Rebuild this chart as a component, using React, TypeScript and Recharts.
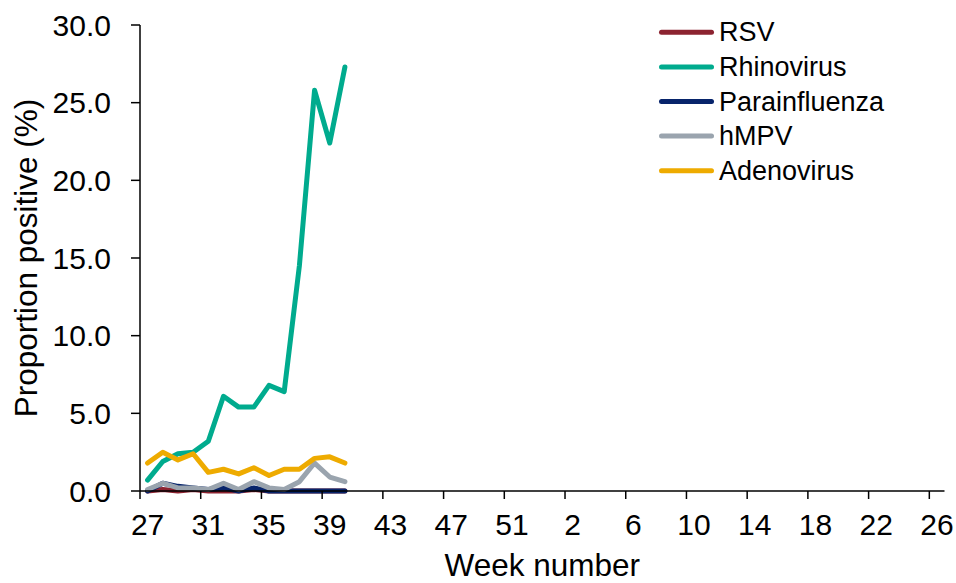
import React from 'react';
import { LineChart, Line, XAxis, YAxis, Legend, Label } from 'recharts';

// ---- Data ----
const weeks = [
  '27', '28', '29', '30', '31', '32', '33', '34', '35', '36', '37', '38', '39', '40',
  '41', '42', '43', '44', '45', '46', '47', '48', '49', '50', '51', '52', '53',
  '1', '2', '3', '4', '5', '6', '7', '8', '9', '10', '11', '12', '13', '14', '15',
  '16', '17', '18', '19', '20', '21', '22', '23', '24', '25', '26',
];
const xTickLabels = ['27', '31', '35', '39', '43', '47', '51', '2', '6', '10', '14', '18', '22', '26'];
const yTicks = [0, 5, 10, 15, 20, 25, 30];

// values for weeks 27..40 (later weeks have no data yet)
const rsv = [0.0, 0.1, 0.0, 0.1, 0.0, 0.0, 0.0, 0.1, 0.0, 0.0, 0.0, 0.0, 0.0, 0.0];
const rhinovirus = [0.7, 1.9, 2.4, 2.5, 3.2, 6.1, 5.4, 5.4, 6.8, 6.4, 14.5, 25.8, 22.4, 27.3];
const parainfluenza = [0.0, 0.5, 0.3, 0.2, 0.1, 0.2, 0.0, 0.2, 0.0, 0.0, 0.0, 0.0, 0.0, 0.0];
const hmpv = [0.1, 0.5, 0.2, 0.2, 0.1, 0.5, 0.1, 0.6, 0.2, 0.1, 0.6, 1.8, 0.9, 0.6];
const adenovirus = [1.8, 2.5, 2.0, 2.4, 1.2, 1.4, 1.1, 1.5, 1.0, 1.4, 1.4, 2.1, 2.2, 1.8];

const SERIES = [
  { key: 'rsv', name: 'RSV', color: '#8C2330', values: rsv },
  { key: 'rhinovirus', name: 'Rhinovirus', color: '#00AB8E', values: rhinovirus },
  { key: 'parainfluenza', name: 'Parainfluenza', color: '#07246B', values: parainfluenza },
  { key: 'hmpv', name: 'hMPV', color: '#9AA4AE', values: hmpv },
  { key: 'adenovirus', name: 'Adenovirus', color: '#EEAB00', values: adenovirus },
];

const data = weeks.map((w, i) => {
  const row: Record<string, any> = { week: w };
  SERIES.forEach((s) => {
    row[s.key] = i < s.values.length ? s.values[i] : null;
  });
  return row;
});

// ---- Layout ----
const W = 956;
const H = 583;
const FONT = '"Liberation Sans", Arial, Helvetica, sans-serif';
const MARGIN = { top: 25, right: 11.5, bottom: 0, left: 0 };
const Y_AXIS_W = 140;
const X_AXIS_H = 92;
const PLOT_LEFT = MARGIN.left + Y_AXIS_W;
const PLOT_W = W - PLOT_LEFT - MARGIN.right;
const PLOT_H = H - MARGIN.top - X_AXIS_H;
const PLOT_BOTTOM = MARGIN.top + PLOT_H;
const BAND = PLOT_W / weeks.length;

const XTick = (props: any) => {
  const { x, payload } = props;
  const bx = x - BAND / 2;
  return (
    <g>
      <line x1={bx} y1={PLOT_BOTTOM} x2={bx} y2={PLOT_BOTTOM + 8} stroke="#000" strokeWidth={1.5} />
      <text x={x} y={PLOT_BOTTOM + 44} textAnchor="middle" fontSize={30} fontFamily={FONT} fill="#000">
        {payload.value}
      </text>
    </g>
  );
};

const renderLegend = () => (
  <svg width={280} height={190} style={{ display: 'block' }}>
    {SERIES.map((s, i) => {
      const y = 32.3 + i * 34.6;
      return (
        <g key={s.key}>
          <line x1={21.5} y1={y} x2={71.5} y2={y} stroke={s.color} strokeWidth={5} strokeLinecap="round" />
          <text x={79} y={y + 9} fontSize={27} fontFamily={FONT} fill="#000">
            {s.name}
          </text>
        </g>
      );
    })}
  </svg>
);

export default function App() {
  return (
    <div style={{ position: 'absolute', left: 0, top: 0, width: W, height: H, background: '#fff' }}>
      <LineChart width={W} height={H} data={data} margin={MARGIN}>
        <XAxis
          dataKey="week"
          type="category"
          ticks={xTickLabels}
          interval={0}
          height={X_AXIS_H}
          padding={{ left: BAND / 2, right: BAND / 2 }}
          axisLine={{ stroke: '#000', strokeWidth: 1.5 }}
          tickLine={false}
          tickSize={0}
          tickMargin={0}
          tick={(p: any) => <XTick {...p} />}
        >
          <Label
            content={() => (
              <text x={PLOT_LEFT + PLOT_W / 2} y={576} textAnchor="middle" fontSize={31.5} fontFamily={FONT} fill="#000">
                Week number
              </text>
            )}
          />
        </XAxis>
        <YAxis
          type="number"
          domain={[0, 30]}
          ticks={yTicks}
          width={Y_AXIS_W}
          interval={0}
          tickFormatter={(v: number) => v.toFixed(1)}
          axisLine={{ stroke: '#000', strokeWidth: 1.5 }}
          tickLine={{ stroke: '#000', strokeWidth: 1.5 }}
          tickSize={9}
          tickMargin={20}
          tick={{ fill: '#000', fontSize: 30, fontFamily: FONT }}
        >
          <Label
            content={() => (
              <text
                x={37}
                y={MARGIN.top + PLOT_H / 2}
                transform={`rotate(-90, 37, ${MARGIN.top + PLOT_H / 2})`}
                textAnchor="middle"
                fontSize={31.5}
                fontFamily={FONT}
                fill="#000"
              >
                Proportion positive (%)
              </text>
            )}
          />
        </YAxis>
        <Legend
          layout="vertical"
          align="center"
          verticalAlign="middle"
          content={renderLegend}
          wrapperStyle={{ left: 640, top: 0, width: 280, height: 190 }}
        />
        {SERIES.map((s) => (
          <Line
            key={s.key}
            type="linear"
            dataKey={s.key}
            name={s.name}
            stroke={s.color}
            strokeWidth={5}
            strokeLinejoin="round"
            strokeLinecap="round"
            dot={false}
            activeDot={false}
            connectNulls={false}
            isAnimationActive={false}
          />
        ))}
      </LineChart>
    </div>
  );
}
